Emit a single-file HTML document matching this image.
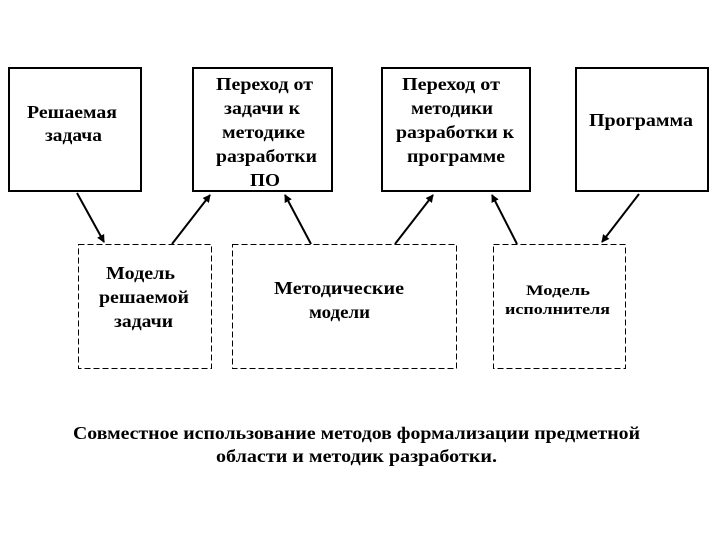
<!DOCTYPE html>
<html><head><meta charset="utf-8"><style>
body{margin:0;background:#fff}
svg text{font-family:"Liberation Serif",serif;font-weight:bold;fill:#000}
</style></head><body>
<svg width="720" height="540" viewBox="0 0 720 540" xmlns="http://www.w3.org/2000/svg">
<defs><marker id="a" markerWidth="8" markerHeight="8" refX="7" refY="4" orient="auto" markerUnits="userSpaceOnUse"><path d="M0,0 L8,4 L0,8 z" fill="#000"/></marker></defs>
<g fill="none" stroke="#000" stroke-width="2">
<rect x="9" y="68" width="132" height="123"/>
<rect x="193" y="68" width="139" height="123"/>
<rect x="382" y="68" width="148" height="123"/>
<rect x="576" y="68" width="132" height="123"/>
</g>
<g fill="none" stroke="#000" stroke-width="1" stroke-dasharray="6,3">
<rect x="78.5" y="244.5" width="133" height="124"/>
<rect x="232.5" y="244.5" width="224" height="124"/>
<rect x="493.5" y="244.5" width="132" height="124"/>
</g>
<g stroke="#000" stroke-width="2" marker-end="url(#a)">
<line x1="77" y1="193" x2="104" y2="242"/>
<line x1="172" y1="244" x2="210" y2="195"/>
<line x1="311" y1="244" x2="285" y2="195"/>
<line x1="395" y1="244" x2="433" y2="195"/>
<line x1="517" y1="244" x2="492" y2="195"/>
<line x1="639" y1="194" x2="602" y2="242"/>
</g>
<g font-size="18" lengthAdjust="spacingAndGlyphs">
<text x="27" y="118" textLength="90" lengthAdjust="spacingAndGlyphs">Решаемая</text>
<text x="45" y="141" textLength="57" lengthAdjust="spacingAndGlyphs">задача</text>
<text x="216" y="90" textLength="97" lengthAdjust="spacingAndGlyphs">Переход от</text>
<text x="224" y="114" textLength="76" lengthAdjust="spacingAndGlyphs">задачи к</text>
<text x="222" y="138" textLength="83" lengthAdjust="spacingAndGlyphs">методике</text>
<text x="216" y="162" textLength="101" lengthAdjust="spacingAndGlyphs">разработки</text>
<text x="250" y="186" textLength="30" lengthAdjust="spacingAndGlyphs">ПО</text>
<text x="402" y="90" textLength="98" lengthAdjust="spacingAndGlyphs">Переход от</text>
<text x="411" y="114" textLength="82" lengthAdjust="spacingAndGlyphs">методики</text>
<text x="396" y="138" textLength="118" lengthAdjust="spacingAndGlyphs">разработки к</text>
<text x="407" y="162" textLength="98" lengthAdjust="spacingAndGlyphs">программе</text>
<text x="589" y="126" textLength="104" lengthAdjust="spacingAndGlyphs">Программа</text>
<text x="106" y="279" textLength="69" lengthAdjust="spacingAndGlyphs">Модель</text>
<text x="99" y="303" textLength="90" lengthAdjust="spacingAndGlyphs">решаемой</text>
<text x="114" y="327" textLength="59" lengthAdjust="spacingAndGlyphs">задачи</text>
<text x="274" y="294" textLength="130" lengthAdjust="spacingAndGlyphs">Методические</text>
<text x="309" y="318" textLength="61" lengthAdjust="spacingAndGlyphs">модели</text>
<text x="526" y="295" font-size="15" textLength="64" lengthAdjust="spacingAndGlyphs">Модель</text>
<text x="505" y="314" font-size="15" textLength="105" lengthAdjust="spacingAndGlyphs">исполнителя</text>
<text x="73" y="439" textLength="567" lengthAdjust="spacingAndGlyphs">Совместное использование методов формализации предметной</text>
<text x="216" y="462" textLength="281" lengthAdjust="spacingAndGlyphs">области и методик разработки.</text>
</g>
</svg>
</body></html>
